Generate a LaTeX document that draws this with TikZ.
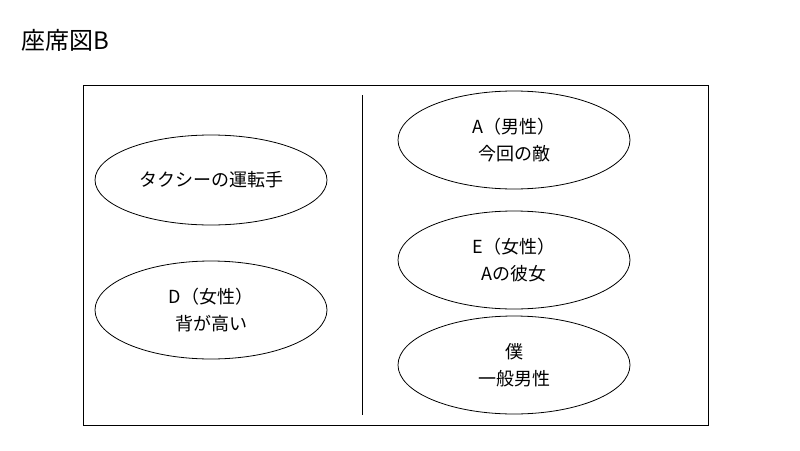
\documentclass[tikz,border=0pt]{standalone}
\usepackage{fontspec}
\setmainfont{Noto Sans CJK JP}
\usetikzlibrary{shapes.geometric}
\tikzset{
  seat/.style={draw,ellipse,minimum width=232pt,minimum height=98pt,align=center,font=\fontsize{18}{27}\selectfont,inner sep=0pt},
}
\begin{document}
\begin{tikzpicture}[x=1pt,y=-1pt,line width=0.8pt]
  \useasboundingbox[fill=white] (0,0) rectangle (800,450);
  % title
  \node[anchor=west,font=\fontsize{24}{28}\selectfont] (title) at (18,40) {座席図B};
  % frame and divider
  \draw (83,85) rectangle (708,425);
  \draw (362,95) -- (362,415);
  % left seats
  \node[seat,minimum height=90pt] (driver) at (211,180) {タクシーの運転手};
  \node[seat] (d) at (211,310) {D（女性）\\背が高い};
  % right seats
  \node[seat] (a) at (514,140) {A（男性）\\今回の敵};
  \node[seat] (e) at (514,260) {E（女性）\\Aの彼女};
  \node[seat] (me) at (514,365) {僕\\一般男性};
\end{tikzpicture}
\end{document}
